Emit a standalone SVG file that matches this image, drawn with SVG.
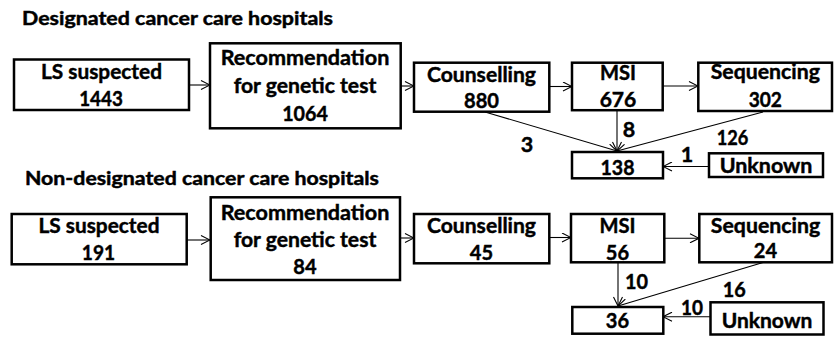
<svg xmlns="http://www.w3.org/2000/svg" width="840" height="337" viewBox="0 0 840 337">
<style>
text{font-family:Lato,"Liberation Sans",sans-serif;font-weight:bold;font-size:21.5px;fill:#000;stroke:#000;stroke-width:0.45}
.t{font-size:18px}
.c{text-anchor:middle}
.box{fill:#fff;stroke:#000;stroke-width:2.5}
.ln{stroke:#000;stroke-width:1.1;fill:none;marker-end:url(#ah)}
</style>
<defs>
<marker id="ah" markerUnits="userSpaceOnUse" viewBox="0 0 10 10" refX="10" refY="5" markerWidth="10" markerHeight="10" orient="auto">
<polyline points="1,0.5 10,5 1,9.5" fill="none" stroke="#000" stroke-width="1.1"/>
</marker>
</defs>
<text class="t" x="22" y="25" textLength="311" lengthAdjust="spacingAndGlyphs">Designated cancer care hospitals</text>
<text class="t" x="25" y="185" textLength="354" lengthAdjust="spacingAndGlyphs">Non-designated cancer care hospitals</text>
<g id="connectors">
<line class="ln" x1="189" y1="85" x2="210" y2="85"/>
<line class="ln" x1="401" y1="86" x2="414" y2="86"/>
<line class="ln" x1="549" y1="86.5" x2="572" y2="86.5"/>
<line class="ln" x1="663" y1="86" x2="698" y2="86"/>
<line class="ln" x1="485" y1="112" x2="617" y2="151"/>
<line class="ln" x1="617" y1="110" x2="617" y2="151"/>
<line class="ln" x1="763" y1="112" x2="617" y2="151"/>
<line class="ln" x1="709" y1="166.5" x2="663" y2="166.5"/>
<line class="ln" x1="187" y1="240" x2="210" y2="240"/>
<line class="ln" x1="400" y1="238" x2="414" y2="238"/>
<line class="ln" x1="549" y1="237.5" x2="571" y2="237.5"/>
<line class="ln" x1="664" y1="238.3" x2="699" y2="238.3"/>
<line class="ln" x1="618" y1="262.5" x2="618" y2="306"/>
<line class="ln" x1="763" y1="262.5" x2="618" y2="306"/>
<line class="ln" x1="710" y1="316.7" x2="663" y2="316.7"/>
</g>
<g id="labels">
<text class="c" x="527" y="151.5">3</text>
<text class="c" x="629" y="136.5">8</text>
<text class="c" x="732.5" y="145" textLength="31.7" lengthAdjust="spacingAndGlyphs">126</text>
<text class="c" x="687" y="161.5">1</text>
<text class="c" x="636.5" y="289.3" textLength="23" lengthAdjust="spacingAndGlyphs">10</text>
<text class="c" x="734.3" y="296.7" textLength="23" lengthAdjust="spacingAndGlyphs">16</text>
<text class="c" x="692" y="315" textLength="22" lengthAdjust="spacingAndGlyphs">10</text>
</g>
<g id="ls1"><rect class="box" x="14" y="59.5" width="175" height="50.5"/>
<text class="c" x="101.5" y="79.3" textLength="121" lengthAdjust="spacingAndGlyphs">LS suspected</text>
<text class="c" x="101" y="106" textLength="43.7" lengthAdjust="spacingAndGlyphs">1443</text></g>
<g id="rec1"><rect class="box" x="210" y="43.3" width="190.7" height="85"/>
<text class="c" x="305" y="65" textLength="168.7" lengthAdjust="spacingAndGlyphs">Recommendation</text>
<text class="c" x="305" y="93.3" textLength="142.7" lengthAdjust="spacingAndGlyphs">for genetic test</text>
<text class="c" x="305" y="120.7" textLength="45.7" lengthAdjust="spacingAndGlyphs">1064</text></g>
<g id="couns1"><rect class="box" x="414" y="62.7" width="135.3" height="49"/>
<text class="c" x="481.5" y="81.7" textLength="109" lengthAdjust="spacingAndGlyphs">Counselling</text>
<text class="c" x="481.5" y="108.3" textLength="35" lengthAdjust="spacingAndGlyphs">880</text></g>
<g id="msi1"><rect class="box" x="572" y="62.7" width="90.7" height="47.5"/>
<text class="c" x="618" y="79.5" textLength="36" lengthAdjust="spacingAndGlyphs">MSI</text>
<text class="c" x="618" y="107" textLength="36.7" lengthAdjust="spacingAndGlyphs">676</text></g>
<g id="seq1"><rect class="box" x="698.3" y="62.7" width="133.7" height="48.3"/>
<text class="c" x="765.3" y="79.3" textLength="109.3" lengthAdjust="spacingAndGlyphs">Sequencing</text>
<text class="c" x="765.3" y="107.3" textLength="33.3" lengthAdjust="spacingAndGlyphs">302</text></g>
<g id="res1"><rect class="box" x="572" y="152" width="91" height="26.3"/>
<text class="c" x="617.5" y="175" textLength="34" lengthAdjust="spacingAndGlyphs">138</text></g>
<g id="unk1"><rect class="box" x="709" y="153.3" width="114" height="23.7"/>
<text class="c" x="766" y="173.3" textLength="92.7" lengthAdjust="spacingAndGlyphs">Unknown</text></g>
<g id="ls2"><rect class="box" x="11.7" y="214" width="175" height="50.3"/>
<text class="c" x="99" y="233.3" textLength="121" lengthAdjust="spacingAndGlyphs">LS suspected</text>
<text class="c" x="98.5" y="260" textLength="33.3" lengthAdjust="spacingAndGlyphs">191</text></g>
<g id="rec2"><rect class="box" x="210.7" y="197.3" width="189.3" height="82.7"/>
<text class="c" x="305" y="220" textLength="168.7" lengthAdjust="spacingAndGlyphs">Recommendation</text>
<text class="c" x="305" y="246.7" textLength="142.7" lengthAdjust="spacingAndGlyphs">for genetic test</text>
<text class="c" x="305" y="274" textLength="23.3" lengthAdjust="spacingAndGlyphs">84</text></g>
<g id="couns2"><rect class="box" x="414" y="214" width="135.3" height="49.3"/>
<text class="c" x="481.5" y="233.3" textLength="109" lengthAdjust="spacingAndGlyphs">Counselling</text>
<text class="c" x="481.5" y="260" textLength="23.3" lengthAdjust="spacingAndGlyphs">45</text></g>
<g id="msi2"><rect class="box" x="571" y="214" width="93.3" height="48.3"/>
<text class="c" x="617.5" y="233" textLength="36" lengthAdjust="spacingAndGlyphs">MSI</text>
<text class="c" x="617.5" y="259.5" textLength="23.3" lengthAdjust="spacingAndGlyphs">56</text></g>
<g id="seq2"><rect class="box" x="699.3" y="214" width="132.7" height="48.3"/>
<text class="c" x="765.5" y="233" textLength="109.3" lengthAdjust="spacingAndGlyphs">Sequencing</text>
<text class="c" x="765.5" y="258.3" textLength="23.3" lengthAdjust="spacingAndGlyphs">24</text></g>
<g id="res2"><rect class="box" x="572.3" y="307" width="91" height="26.7"/>
<text class="c" x="617.5" y="328" textLength="23.3" lengthAdjust="spacingAndGlyphs">36</text></g>
<g id="unk2"><rect class="box" x="710.5" y="302.3" width="113" height="32.2"/>
<text class="c" x="767" y="328.3" textLength="90.7" lengthAdjust="spacingAndGlyphs">Unknown</text></g>
</svg>
